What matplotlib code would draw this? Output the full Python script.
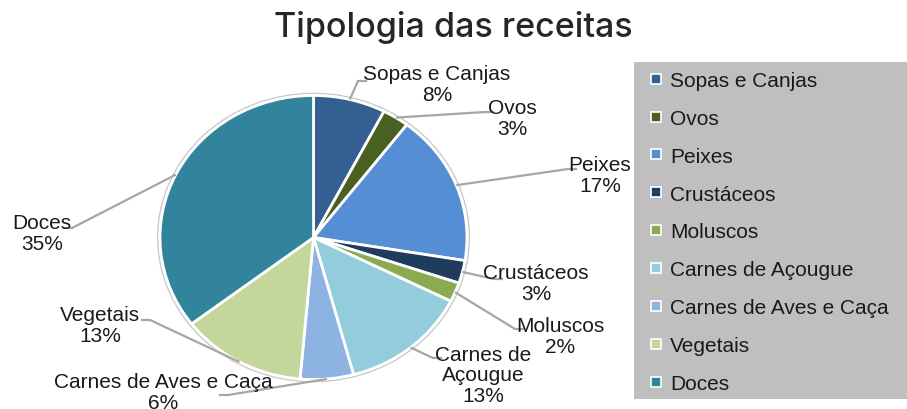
import matplotlib
matplotlib.use("Agg")
import numpy as np
import matplotlib.pyplot as plt
from matplotlib.patches import Ellipse, Rectangle
from matplotlib.lines import Line2D

plt.rcParams['font.family'] = ['Liberation Sans', 'DejaVu Sans']

# ---- dados
categorias = ['Sopas e Canjas', 'Ovos', 'Peixes', 'Crustáceos', 'Moluscos',
              'Carnes de Açougue', 'Carnes de Aves e Caça', 'Vegetais', 'Doces']
rotulos = ['Sopas e Canjas', 'Ovos', 'Peixes', 'Crustáceos', 'Moluscos',
           'Carnes de\nAçougue', 'Carnes de Aves e Caça', 'Vegetais', 'Doces']
percentagens = [7.6, 2.8, 17.2, 2.6, 2.2, 13.4, 5.6, 13.2, 35.4]
cores = ['#335F91', '#4A5F22', '#558ED5', '#1F3B5E', '#8AAB50',
         '#93CDDD', '#8DB3E2', '#C3D69B', '#31849B']

# ---- layout (pixels, origem canto superior esquerdo)
W, H = 907, 410
cx, cy = 313.5, 238.5     # centro da pizza
rx, ry = 153.5, 142.0     # raios horizontal / vertical
# posicao do texto e "joelho" da linha de chamada
pos_texto = [(437, 85), (512, 119), (600, 176), (536, 284), (560, 337),
             (483, 376), (163, 393), (100, 326), (42, 234)]
joelho = [(358, 82), (485, 113), (568, 170), (494, 280), (515, 330),
          (433, 359), (228, 396), (150, 321), (72, 229)]


def px(x, y):
    # pixel -> coordenadas dos dados (raio 1)
    return (x - cx) / rx, (cy - y) / ry


fig = plt.figure(figsize=(W / 100, H / 100), dpi=100)
ax = fig.add_axes([0, 0, 1, 1])

# contorno cinza fino em volta da pizza
ax.add_patch(Ellipse((0, 0), 2.03, 2.03, fill=False, ec='#C8C8C8', lw=1.0, zorder=0))

wedges, _ = ax.pie(percentagens, colors=cores, startangle=90, counterclock=False,
                   radius=1, center=(0, 0), frame=True,
                   wedgeprops=dict(edgecolor='white', linewidth=2))
ax.set_aspect('auto')
ax.set_xlim(px(0, 0)[0], px(W, 0)[0])
ax.set_ylim(px(0, H)[1], px(0, 0)[1])
ax.axis('off')

for w, lab, val, pt, jk in zip(wedges, rotulos, percentagens, pos_texto, joelho):
    ang = np.deg2rad((w.theta1 + w.theta2) / 2)
    x0, y0 = np.cos(ang), np.sin(ang)
    xk, yk = px(*jk)
    ax.plot([x0, xk], [y0, yk], color='#A6A6A6', lw=1.6, solid_capstyle='butt', zorder=3)
    # pequeno segmento horizontal ate o texto
    if jk[0] < pt[0]:
        ax.plot([xk, xk + 8 / rx], [yk, yk], color='#A6A6A6', lw=1.6, zorder=3)
    else:
        ax.plot([xk, xk - 8 / rx], [yk, yk], color='#A6A6A6', lw=1.6, zorder=3)
    tx, ty = px(*pt)
    ax.text(tx, ty, '%s\n%.0f%%' % (lab, val), ha='center', va='center',
            fontsize=15, color='#1A1A1A', linespacing=1.1)

# titulo
fig.text(0.5, 1 - 28 / H, 'Tipologia das receitas', ha='center', va='center',
         fontsize=24.5, fontfamily='Inter', fontweight='medium', color='#262626')

# legenda
fig.patches.append(Rectangle((634 / W, 1 - 400 / H), (W - 634) / W, (400 - 63) / H,
                             transform=fig.transFigure, fc='#BFBFBF', ec='none', zorder=0))
handles = [Line2D([], [], ls='none', marker='s', markersize=7, markerfacecolor=c,
                  markeredgecolor='white', markeredgewidth=1.2) for c in cores]
leg = fig.legend(handles, categorias, loc='upper left',
                 bbox_to_anchor=(650 / W, 1 - 72 / H), frameon=False,
                 fontsize=15, labelspacing=0.905, handlelength=0.6,
                 handletextpad=0.35, borderpad=0, borderaxespad=0)
for t in leg.get_texts():
    t.set_color('#1A1A1A')

fig.savefig('out.png', dpi=100)
